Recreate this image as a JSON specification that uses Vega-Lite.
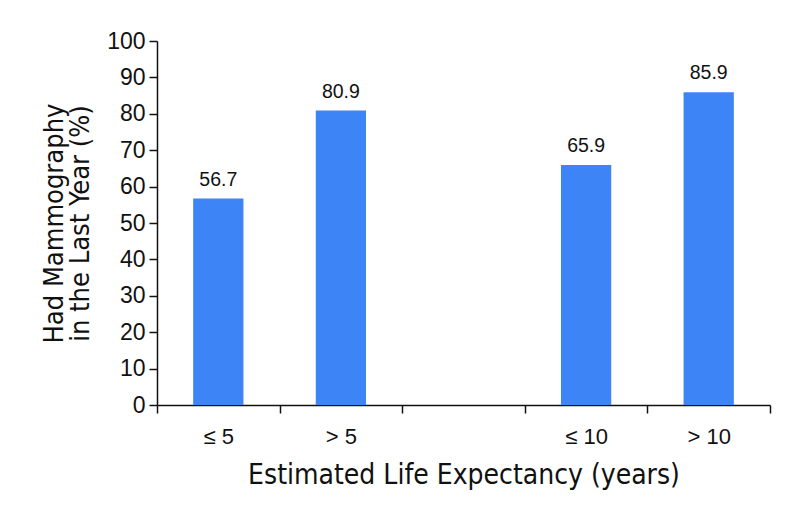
{
  "$schema": "https://vega.github.io/schema/vega-lite/v6.json",
  "autosize": "none",
  "width": 613,
  "height": 364,
  "padding": {"left": 157, "top": 41, "right": 32, "bottom": 108},
  "background": "white",
  "config": {"view": {"stroke": null}},
  "data": {"values": [
    {"group": "≤ 5", "pct": 56.7},
    {"group": "> 5", "pct": 80.9},
    {"group": "≤ 10", "pct": 65.9},
    {"group": "> 10", "pct": 85.9}
  ]},
  "encoding": {
    "x": {
      "field": "group", "type": "nominal", "sort": null,
      "scale": {"domain": ["≤ 5", "> 5", " ", "≤ 10", "> 10"], "paddingInner": 0, "paddingOuter": 0},
      "axis": {
        "title": "Estimated Life Expectancy (years)",
        "titleFont": "DejaVu Sans Condensed, Roboto", "titleFontSize": 28, "titleFontWeight": "normal", "titleColor": "#111",
        "titlePadding": 14,
        "labelFont": "Liberation Sans", "labelFontSize": 22, "labelColor": "#111", "labelAngle": 0, "labelPadding": 13,
        "tickBand": "extent", "tickSize": 8, "tickColor": "#111", "tickWidth": 1.5,
        "domainColor": "#111", "domainWidth": 1.5
      }
    },
    "y": {
      "field": "pct", "type": "quantitative",
      "scale": {"domain": [0, 100], "nice": false},
      "axis": {
        "title": ["Had Mammography", "in the Last Year (%)"],
        "titleFont": "DejaVu Sans Condensed, Roboto", "titleFontSize": 27, "titleFontWeight": "normal", "titleColor": "#111",
        "titlePadding": 12, "titleLineHeight": 26,
        "values": [0, 10, 20, 30, 40, 50, 60, 70, 80, 90, 100],
        "labelFont": "Liberation Sans", "labelFontSize": 23, "labelColor": "#111", "labelPadding": 4,
        "tickSize": 8, "tickColor": "#111", "tickWidth": 1.5,
        "domainColor": "#111", "domainWidth": 1.5, "grid": false
      }
    }
  },
  "layer": [
    {"mark": {"type": "bar", "color": "#3d84f7", "width": {"band": 0.41}}},
    {
      "mark": {"type": "text", "baseline": "alphabetic", "dy": -13, "font": "Liberation Sans", "fontSize": 19.5, "color": "#111"},
      "encoding": {"text": {"field": "pct", "type": "quantitative", "format": ".1f"}}
    }
  ]
}
